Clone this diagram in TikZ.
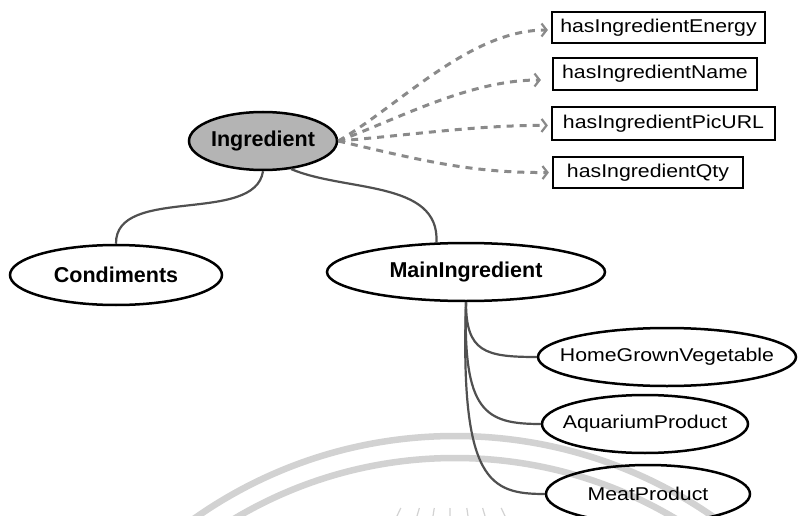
\documentclass[tikz,border=0pt]{standalone}
\usepackage{fontspec}
\setmainfont{Liberation Sans}
\usetikzlibrary{shapes.geometric,arrows.meta}
\definecolor{ingfill}{HTML}{B4B4B4}
\definecolor{conn}{HTML}{505050}
\definecolor{dashc}{HTML}{8A8A8A}
\definecolor{wm}{HTML}{D2D2D2}
\newcommand{\nt}[1]{\makebox[0pt]{\scalebox{1.15}[1]{\fontsize{18.5}{22}\selectfont #1}}}
\newcommand{\bt}[1]{\makebox[0pt]{\fontsize{21.5}{25}\selectfont\bfseries #1}}
\begin{document}
\begin{tikzpicture}[x=1pt,y=-1pt,
  ell/.style={ellipse, draw=black, line width=2.5pt, inner sep=0pt},
  prop/.style={rectangle, draw=black, line width=2.2pt, inner sep=0pt},
  link/.style={draw=conn, line width=2.2pt},
  dlink/.style={draw=dashc, line width=3pt, dash pattern=on 7pt off 6pt,
     -{Straight Barb[length=5pt,width=13pt,line width=2.2pt]}, shorten >=3pt},
  wmark/.style={draw=wm, line width=6.5pt}]
\useasboundingbox (0,0) rectangle (798,516);
\clip (0,0) rectangle (798,516);
\fill[white] (0,0) rectangle (798,516);
% watermark
\draw[wmark] (455,889) circle[radius=453pt];
\draw[wmark] (455,889) circle[radius=431pt];
\foreach \x in {397,417,433,450,468,485,505}
  \draw[draw=wm, line width=1.2pt] (\x,516) -- ({451+(\x-451)*0.93},508);
% nodes
\node[ell, fill=ingfill, minimum width=148pt, minimum height=58pt] (ing) at (263,141) {\bt{Ingredient}};
\node[ell, minimum width=212pt, minimum height=60pt] (cond) at (116,275) {\bt{Condiments}};
\node[ell, minimum width=278pt, minimum height=58pt] (main) at (466,272) {\bt{MainIngredient}};
\node[ell, minimum width=258pt, minimum height=58pt] (hgv) at (667,357) {\nt{HomeGrownVegetable}};
\node[ell, minimum width=206pt, minimum height=58pt] (aqua) at (645,424) {\nt{AquariumProduct}};
\node[ell, minimum width=204pt, minimum height=58pt] (meat) at (648,494) {\nt{MeatProduct}};
\node[prop, minimum width=213pt, minimum height=31pt] (energy) at (658.5,27.5) {\nt{hasIngredientEnergy}};
\node[prop, minimum width=204pt, minimum height=32pt] (name) at (655,74) {\nt{hasIngredientName}};
\node[prop, minimum width=223pt, minimum height=33pt] (pic) at (663.5,123.5) {\nt{hasIngredientPicURL}};
\node[prop, minimum width=190pt, minimum height=31pt] (qty) at (648,172.5) {\nt{hasIngredientQty}};
% solid connectors
\draw[link] (ing.south) .. controls (255,225) and (115,185) .. (cond.north);
\draw[link] (ing.-45) .. controls (345,192) and (440,180) .. (main.135);
\draw[link] (main.south) .. controls (466,352) and (485,357) .. (hgv.west);
\draw[link] (main.south) .. controls (463,412) and (485,424) .. (aqua.west);
\draw[link] (main.south) .. controls (460,482) and (490,494) .. (meat.west);
% dashed property links
\draw[dlink] (ing.east) .. controls (400,105) and (470,30) .. ([yshift=-2.5pt]energy.west);
\draw[dlink, shorten >=11pt] (ing.east) .. controls (400,118) and (470,80) .. ([yshift=-6pt]name.west);
\draw[dlink] (ing.east) .. controls (420,134) and (480,125) .. ([yshift=-2pt]pic.west);
\draw[dlink] (ing.east) .. controls (420,160) and (470,173) .. (qty.west);
\end{tikzpicture}
\end{document}
